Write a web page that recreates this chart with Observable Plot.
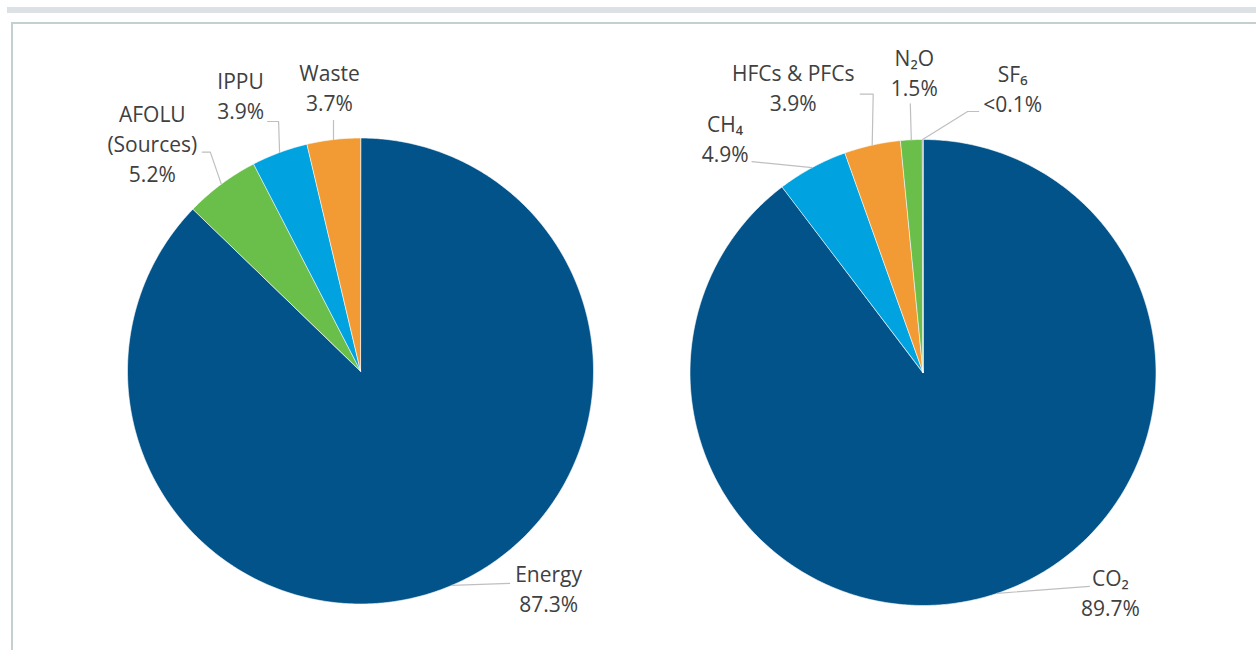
<!DOCTYPE html>
<html><head><meta charset="utf-8">
<script src="https://cdn.jsdelivr.net/npm/d3@7"></script>
<script src="https://cdn.jsdelivr.net/npm/@observablehq/plot@0.6"></script>
<style>
html,body{margin:0;padding:0;background:#fff;overflow:hidden;}
#wrap{position:relative;width:1256px;height:650px;overflow:hidden;}
#chart{position:absolute;left:0;top:0;}
.bar{position:absolute;left:7px;right:0;top:7px;height:6px;background:#dbe1e4;}
.frameT{position:absolute;left:11px;right:0;top:22px;height:2px;background:#c4d0d0;}
.frameL{position:absolute;left:11px;top:22px;width:2px;bottom:0;background:#c4d0d0;}
</style></head><body>
<div id="wrap"><div id="chart"></div><div class="bar"></div><div class="frameT"></div><div class="frameL"></div></div>
<script>
// ---- data ----
const sectors = ["Energy", "AFOLU (Sources)", "IPPU", "Waste"];
const sectorValues = [87.3, 5.2, 3.9, 3.7];
const sectorLabels = ["Energy\n87.3%", "AFOLU\n(Sources)\n5.2%", "IPPU\n3.9%", "Waste\n3.7%"];
const sectorColors = ["#02538a", "#6abf4b", "#00a3e0", "#f29b34"];

const gases = ["CO₂", "CH₄", "HFCs & PFCs", "N₂O", "SF₆"];
const gasValues = [89.7, 4.9, 3.9, 1.5, 0.05];
const gasLabels = ["CO₂\n89.7%", "CH₄\n4.9%", "HFCs & PFCs\n3.9%", "N₂O\n1.5%", "SF₆\n<0.1%"];
const gasColors = ["#02538a", "#00a3e0", "#f29b34", "#6abf4b", "#7f7f7f"];

// ---- layout (pixels) ----
const R = 233;
const FONT = 21;
const pies = [
  {id: "s", cx: 360, cy: 370.5, values: sectorValues, labels: sectorLabels, colors: sectorColors,
   // label offset from slice edge point (text center, first baseline) and leader elbow offsets
   place: [
     {dx: 97, dy: -2, lead: [[58, -2]]},
     {dx: -69, dy: -60, lead: [[-11, -32], [-19, -32]]},
     {dx: -39, dy: -62, lead: [[-1, -31], [-12, -31]]},
     {dx: -4, dy: -57, lead: [[0, -19]]}
   ]},
  {id: "g", cx: 922.5, cy: 372, values: gasValues, labels: gasLabels, colors: gasColors,
   place: [
     {dx: 113, dy: -6, lead: [[92, -7]]},
     {dx: -87, dy: -34, lead: [[-60, -6]]},
     {dx: -79, dy: -62, lead: [[1, -51], [-12, -51]]},
     {dx: 3, dy: -72, lead: [[-1, -36]]},
     {dx: 90, dy: -56, lead: [[45, -28], [56, -28]]}
   ]}
];

const polys = [], leaders = [], texts = [];
for (const p of pies) {
  const total = d3.sum(p.values);
  let cum = 0;
  p.values.forEach((v, i) => {
    const a0 = cum / total * 2 * Math.PI;
    cum += v;
    const a1 = cum / total * 2 * Math.PI;
    const key = p.id + i;
    const color = p.colors[i];
    polys.push({key, color, x: p.cx, y: p.cy});
    const n = Math.max(2, Math.ceil((a1 - a0) / (Math.PI / 360)));
    for (let k = 0; k <= n; k++) {
      const a = a0 + (a1 - a0) * k / n;
      polys.push({key, color, x: p.cx + R * Math.sin(a), y: p.cy - R * Math.cos(a)});
    }
    const am = (a0 + a1) / 2;
    const ex = p.cx + R * Math.sin(am), ey = p.cy - R * Math.cos(am);
    const pl = p.place[i];
    leaders.push({key, x: ex, y: ey});
    for (const [lx, ly] of pl.lead) leaders.push({key, x: ex + lx, y: ey + ly});
    texts.push({text: p.labels[i], x: ex + pl.dx, y: ey + pl.dy - 23});
  });
}

const chart = Plot.plot({
  width: 1256, height: 650, margin: 0,
  x: {domain: [0, 1256], range: [0, 1256], axis: null},
  y: {domain: [0, 650], range: [0, 650], axis: null},
  color: {type: "identity"},
  marks: [
    Plot.line(polys, {x: "x", y: "y", z: "key", fill: "color", stroke: "#ffffff", strokeWidth: 0.6, curve: "linear-closed"}),
    Plot.line(leaders, {x: "x", y: "y", z: "key", stroke: "#bfbfbf", strokeWidth: 1.2}),
    Plot.text(texts, {x: "x", y: "y", text: "text", fontSize: FONT, lineHeight: 30 / FONT, lineAnchor: "top",
      textAnchor: "middle", fill: "#404040", fontFamily: "Open Sans", fontWeight: 400})
  ]
});
document.getElementById("chart").appendChild(chart);
</script>
</body></html>
